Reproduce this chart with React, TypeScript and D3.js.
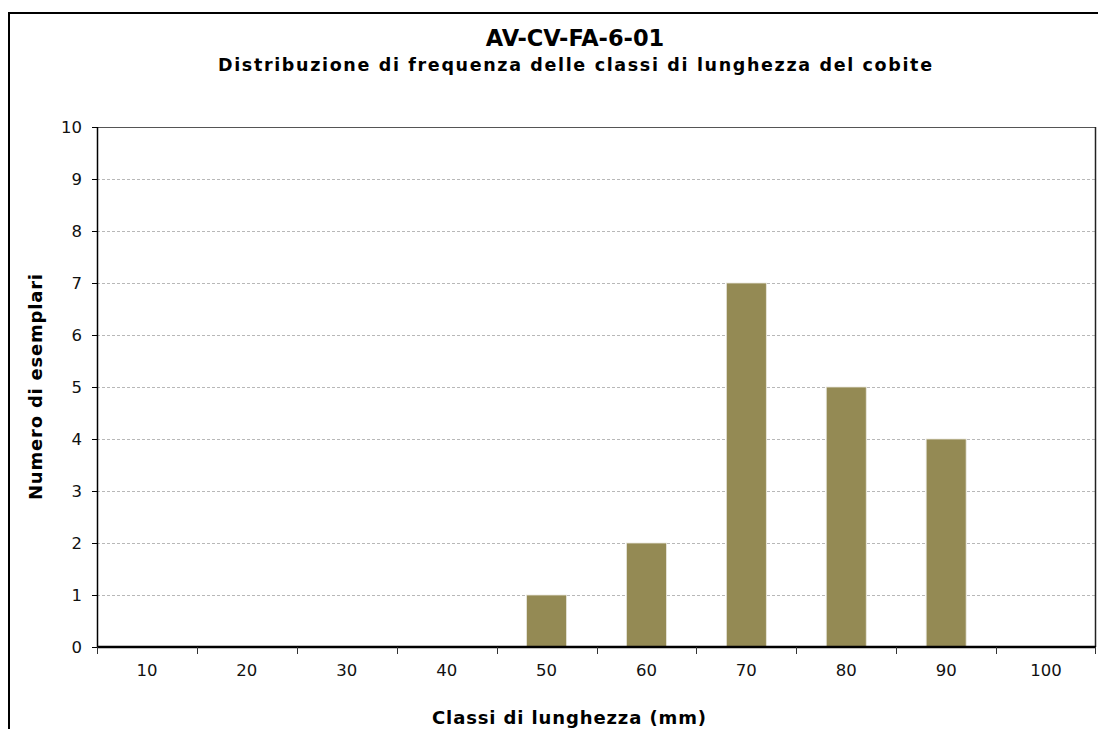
import React from "react";
import * as d3 from "d3";

const categories = ["10", "20", "30", "40", "50", "60", "70", "80", "90", "100"];
const counts = [0, 0, 0, 0, 1, 2, 7, 5, 4, 0];
const yTicks = [0, 1, 2, 3, 4, 5, 6, 7, 8, 9, 10];

const titleText = "AV-CV-FA-6-01";
const subtitleText = "Distribuzione di frequenza delle classi di lunghezza del cobite";
const yLabel = "Numero di esemplari";
const xLabel = "Classi di lunghezza (mm)";

export default function App() {
  const W = 1098, H = 729;
  const left = 97, right = 1096, top = 127, bottom = 647;
  const x = d3.scaleBand<string>().domain(categories).range([left, right]).paddingInner(0).paddingOuter(0);
  const y = d3.scaleLinear().domain([0, 10]).range([bottom, top]);
  const bw = x.bandwidth() * 0.4;
  const font = "'DejaVu Sans', Verdana, sans-serif";
  return (
    <svg width={W} height={H} style={{ position: "absolute", left: 0, top: 0, background: "#fff" }}>
      <rect x={0} y={0} width={W} height={H} fill="#fff" />
      <path d={`M9,${H + 5} L9,13 L${W + 5},13`} fill="none" stroke="#000" strokeWidth={2} />
      {yTicks.filter(t => t > 0).map(t => (
        <line key={t} x1={left} x2={right} y1={Math.round(y(t)) + 0.5} y2={Math.round(y(t)) + 0.5}
          stroke="#b8b8b8" strokeWidth={1} strokeDasharray="3,2" />
      ))}
      <line x1={left} x2={right} y1={top + 0.5} y2={top + 0.5} stroke="#555" strokeWidth={1} />
      <line x1={right - 0.5} x2={right - 0.5} y1={top} y2={bottom} stroke="#222" strokeWidth={1.5} />
      {counts.map((v, i) => v > 0 ? (
        <rect key={i} x={(x(categories[i]) as number) + x.bandwidth() / 2 - bw / 2} y={y(v)}
          width={bw} height={y(0) - y(v)} fill="#948A54" stroke="#e8e6dc" strokeWidth={0.8} />
      ) : null)}
      <line x1={left + 0.5} x2={left + 0.5} y1={top} y2={bottom} stroke="#000" strokeWidth={1.5} />
      {yTicks.map(t => (
        <g key={t}>
          <line x1={left - 5} x2={left} y1={Math.round(y(t)) + 0.5} y2={Math.round(y(t)) + 0.5} stroke="#000" strokeWidth={1} />
          <text x={left - 15} y={y(t)} dy="0.36em" textAnchor="end" fontFamily={font} fontSize={16.5} fill="#111">{t}</text>
        </g>
      ))}
      <line x1={left} x2={right} y1={bottom} y2={bottom} stroke="#000" strokeWidth={2.5} />
      {categories.map((c, i) => (
        <line key={"t" + i} x1={Math.round(x(c) as number) + 0.5} x2={Math.round(x(c) as number) + 0.5}
          y1={bottom} y2={bottom + 7} stroke="#333" strokeWidth={1} />
      ))}
      <line x1={right - 0.5} x2={right - 0.5} y1={bottom} y2={bottom + 7} stroke="#333" strokeWidth={1} />
      {categories.map((c, i) => (
        <text key={"l" + i} x={(x(c) as number) + x.bandwidth() / 2} y={670} dy="0.36em" textAnchor="middle"
          fontFamily={font} fontSize={16.5} fill="#111">{c}</text>
      ))}
      <text x={575} y={46} textAnchor="middle" fontFamily={font} fontWeight="bold" fontSize={22.5} fill="#000">{titleText}</text>
      <text x={575} y={71} textAnchor="middle" fontFamily={font} fontWeight="bold" fontSize={17.5} fill="#000"
        textLength={714} lengthAdjust="spacing">{subtitleText}</text>
      <text x={569} y={724} textAnchor="middle" fontFamily={font} fontWeight="bold" fontSize={18} fill="#000"
        textLength={274} lengthAdjust="spacing">{xLabel}</text>
      <text transform={`translate(42,387) rotate(-90)`} textAnchor="middle" fontFamily={font} fontWeight="bold" fontSize={18} fill="#000"
        textLength={226} lengthAdjust="spacing">{yLabel}</text>
    </svg>
  );
}
